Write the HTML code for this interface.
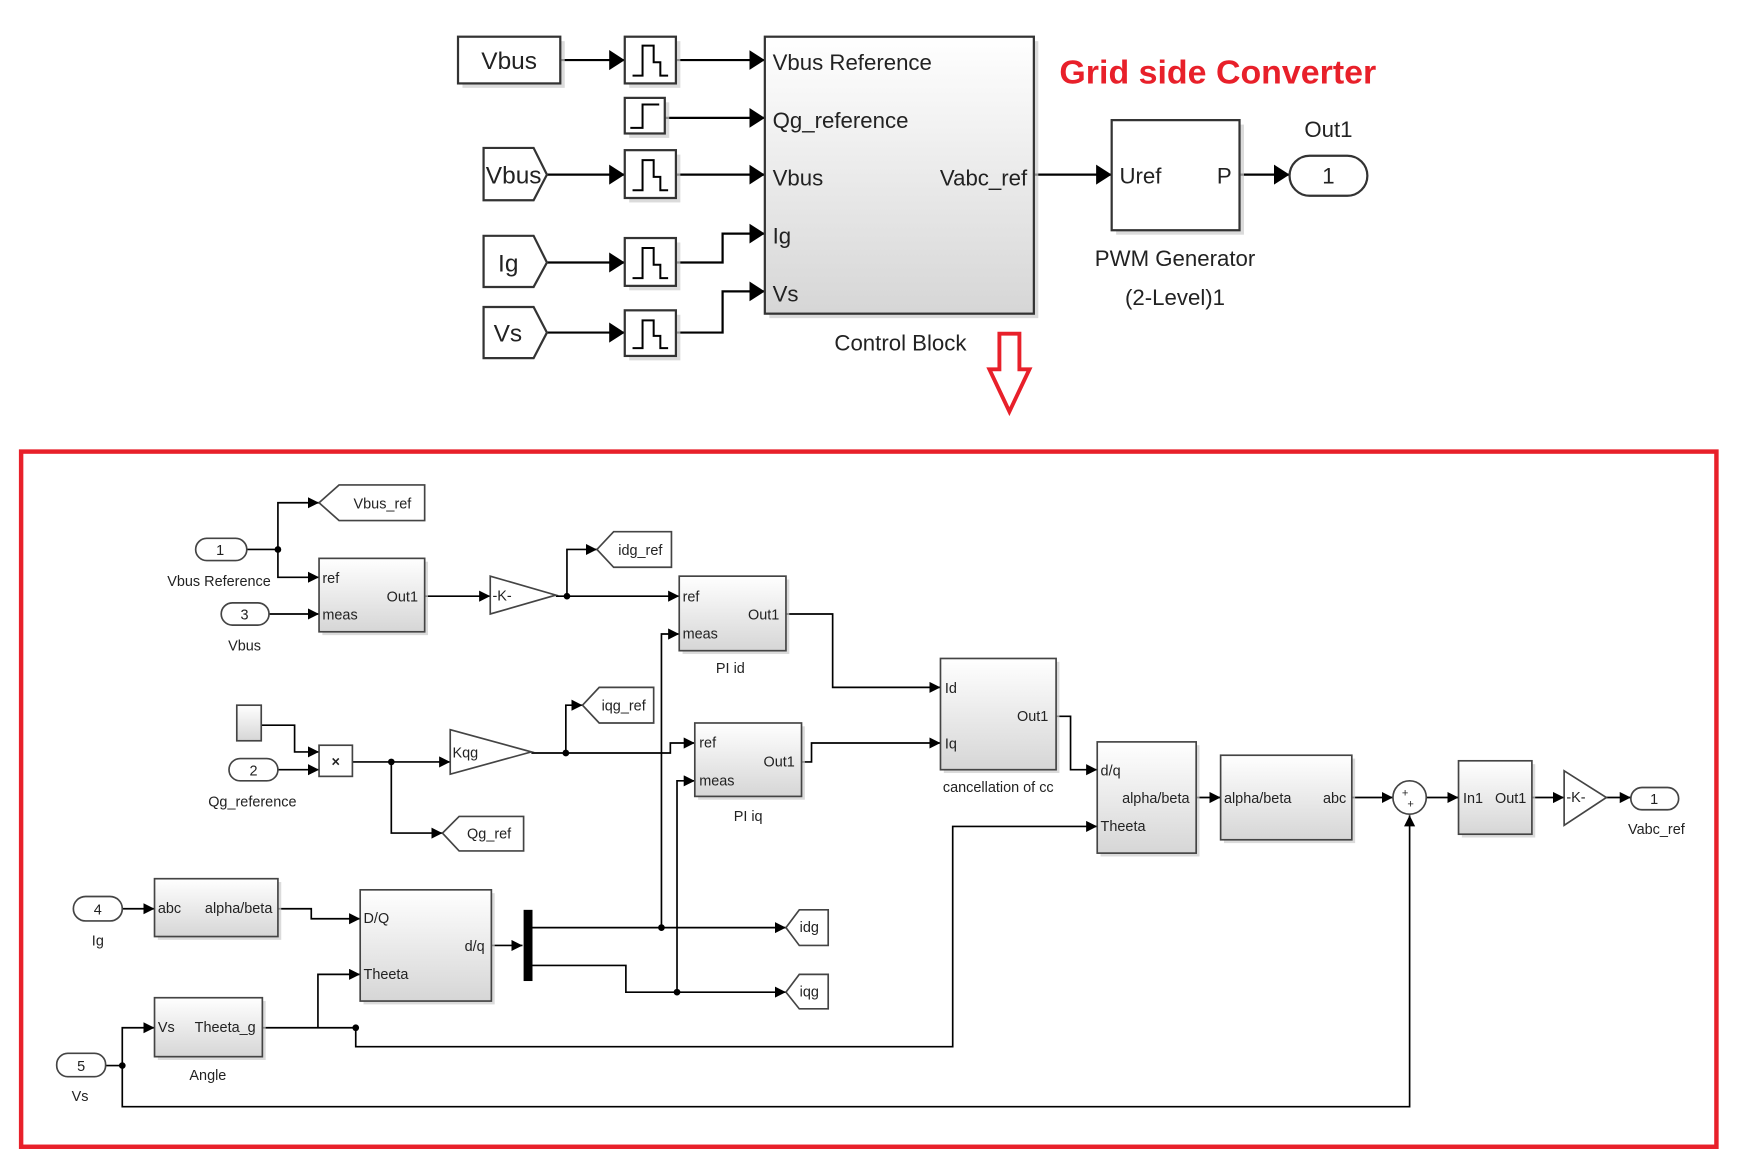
<!DOCTYPE html>
<html><head><meta charset="utf-8"><style>
html,body{margin:0;padding:0;background:#fff;}
svg{display:block;}
text{font-family:"Liberation Sans",sans-serif;fill:#222;}
</style></head><body>
<svg width="1742" height="1159" viewBox="0 0 1567 1042" preserveAspectRatio="none" xmlns="http://www.w3.org/2000/svg">
<defs>
<marker id="A" markerUnits="userSpaceOnUse" markerWidth="16" markerHeight="20" refX="14" refY="9" orient="auto"><path d="M0,0 L14,9 L0,18 z" fill="#000"/></marker>
<marker id="a" markerUnits="userSpaceOnUse" markerWidth="12" markerHeight="12" refX="10" refY="5" orient="auto"><path d="M0,0 L10,5 L0,10 z" fill="#000"/></marker>
<linearGradient id="g" x1="0" y1="0" x2="0" y2="1"><stop offset="0" stop-color="#fff"/><stop offset="1" stop-color="#d6d6d6"/></linearGradient>
</defs>

<g stroke="#000" fill="none" stroke-width="2">
<path d="M504,54 H562" marker-end="url(#A)"/>
<path d="M608,54 H688" marker-end="url(#A)"/>
<path d="M598,106 H688" marker-end="url(#A)"/>
<path d="M492,157 H562" marker-end="url(#A)"/>
<path d="M608,157 H688" marker-end="url(#A)"/>
<path d="M492,236 H562" marker-end="url(#A)"/>
<path d="M608,236 H650 V210 H688" marker-end="url(#A)"/>
<path d="M492,299 H562" marker-end="url(#A)"/>
<path d="M608,299 H650 V262 H688" marker-end="url(#A)"/>
<path d="M930,157 H1000" marker-end="url(#A)"/>
<path d="M1115,157 H1160" marker-end="url(#A)"/>
</g>
<g fill="#ccc" stroke="none" opacity="0.7">
<rect x="416" y="37" width="92" height="42"/>
<rect x="566" y="37" width="46" height="42"/>
<rect x="566" y="92" width="36" height="32"/>
<rect x="566" y="139" width="46" height="43"/>
<rect x="566" y="218" width="46" height="43"/>
<rect x="566" y="283" width="46" height="41"/>
<rect x="692" y="37" width="242" height="249"/>
<rect x="1004" y="112" width="115" height="99"/>
</g>
<g stroke="#333" stroke-width="2" fill="#fff">
<rect x="412" y="33" width="92" height="42"/>
<rect x="562" y="33" width="46" height="42"/>
<rect x="562" y="88" width="36" height="32"/>
<rect x="562" y="135" width="46" height="43"/>
<rect x="562" y="214" width="46" height="43"/>
<rect x="562" y="279" width="46" height="41"/>
<path d="M435,133 H480 L492,157 L480,180 H435 Z"/>
<path d="M435,212 H480 L492,236 L480,258 H435 Z"/>
<path d="M435,276 H480 L492,299 L480,322 H435 Z"/>
<rect x="688" y="33" width="242" height="249" fill="url(#g)"/>
<rect x="1000" y="108" width="115" height="99"/>
<rect x="1160" y="140" width="70" height="36" rx="18"/>
</g>
<g stroke="#000" stroke-width="1.8" fill="none">
<path d="M569,68 H578 V41 H588 V56 H594 V68 H601"/>
<path d="M569,171 H578 V144 H588 V159 H594 V171 H601"/>
<path d="M569,250 H578 V223 H588 V238 H594 V250 H601"/>
<path d="M569,313 H578 V288 H588 V302 H594 V313 H601"/>
<path d="M567,115 H578 V94 H593"/>
</g>
<g font-size="22">
<text x="458" y="62" text-anchor="middle">Vbus</text>
<text x="437" y="165">Vbus</text>
<text x="448" y="244">Ig</text>
<text x="444" y="307">Vs</text>
</g>
<g font-size="20">
<text x="695" y="63">Vbus Reference</text>
<text x="695" y="115">Qg_reference</text>
<text x="695" y="167">Vbus</text>
<text x="695" y="219">Ig</text>
<text x="695" y="271">Vs</text>
<text x="924" y="167" text-anchor="end">Vabc_ref</text>
<text x="810" y="315" text-anchor="middle">Control Block</text>
<text x="1007" y="165">Uref</text>
<text x="1108" y="165" text-anchor="end">P</text>
<text x="1057" y="239" text-anchor="middle">PWM Generator</text>
<text x="1057" y="274" text-anchor="middle">(2-Level)1</text>
<text x="1195" y="165" text-anchor="middle">1</text>
<text x="1195" y="123" text-anchor="middle">Out1</text>
</g>
<text x="953" y="75" font-size="30" font-weight="bold" style="fill:#e8202a" textLength="285" lengthAdjust="spacingAndGlyphs">Grid side Converter</text>
<path d="M899,300 H917 V332 H926 L908,370 L890,332 H899 Z" fill="#fff" stroke="#e8202a" stroke-width="3.5"/>

<rect x="19" y="406" width="1525" height="625" fill="none" stroke="#e8202a" stroke-width="4"/>

<g stroke="#000" fill="none" stroke-width="1.5">
<path d="M222,494 H250 V452 H287" marker-end="url(#a)"/>
<path d="M250,494 V519 H287" marker-end="url(#a)"/>
<path d="M242,552 H287" marker-end="url(#a)"/>
<path d="M382,536 H441" marker-end="url(#a)"/>
<path d="M500,536 H510 V494 H537" marker-end="url(#a)"/>
<path d="M510,536 H611" marker-end="url(#a)"/>
<path d="M707,552 H749 V618 H846" marker-end="url(#a)"/>
<path d="M235,652 H265 V676 H287" marker-end="url(#a)"/>
<path d="M250,692 H287" marker-end="url(#a)"/>
<path d="M317,685 H405" marker-end="url(#a)"/>
<path d="M352,685 V749 H398" marker-end="url(#a)"/>
<path d="M478,677 H509 V634 H524" marker-end="url(#a)"/>
<path d="M509,677 H603 V668 H625" marker-end="url(#a)"/>
<path d="M721,685 H730 V668 H846" marker-end="url(#a)"/>
<path d="M950,644 H963 V692 H987" marker-end="url(#a)"/>
<path d="M1076,717 H1098" marker-end="url(#a)"/>
<path d="M1216,717 H1253" marker-end="url(#a)"/>
<path d="M1283,717 H1312" marker-end="url(#a)"/>
<path d="M1378,717 H1407" marker-end="url(#a)"/>
<path d="M1445,717 H1467" marker-end="url(#a)"/>
<path d="M110,817 H139" marker-end="url(#a)"/>
<path d="M250,817 H280 V826 H324" marker-end="url(#a)"/>
<path d="M442,850 H470" marker-end="url(#a)"/>
<path d="M479,834 H707" marker-end="url(#a)"/>
<path d="M595,834 V570 H611" marker-end="url(#a)"/>
<path d="M479,868 H563 V892 H707" marker-end="url(#a)"/>
<path d="M609,892 V702 H625" marker-end="url(#a)"/>
<path d="M95,958 H110 V924 H139" marker-end="url(#a)"/>
<path d="M236,924 H320 V941 H857 V743 H987" marker-end="url(#a)"/>
<path d="M286,924 V876 H324" marker-end="url(#a)"/>
<path d="M110,958 V995 H1268 V733" marker-end="url(#a)"/>
</g>
<g fill="#000">
<circle cx="250" cy="494" r="3"/><circle cx="510" cy="536" r="3"/>
<circle cx="352" cy="685" r="3"/><circle cx="509" cy="677" r="3"/>
<circle cx="595" cy="834" r="3"/><circle cx="609" cy="892" r="3"/>
<circle cx="110" cy="958" r="3"/><circle cx="320" cy="924" r="3"/>
<rect x="471" y="818" width="8" height="64"/>
</g>
<g fill="#ccc" opacity="0.7">
<rect x="290" y="505" width="95" height="66"/>
<rect x="614" y="521" width="96" height="67"/>
<rect x="628" y="653" width="96" height="66"/>
<rect x="849" y="595" width="104" height="100"/>
<rect x="990" y="670" width="89" height="100"/>
<rect x="1101" y="682" width="118" height="76"/>
<rect x="1315" y="687" width="66" height="66"/>
<rect x="142" y="793" width="111" height="52"/>
<rect x="327" y="803" width="118" height="100"/>
<rect x="142" y="900" width="97" height="53"/>
</g>
<g stroke="#444" stroke-width="1.5" fill="url(#g)">
<rect x="287" y="502" width="95" height="66"/>
<rect x="611" y="518" width="96" height="67"/>
<rect x="625" y="650" width="96" height="66"/>
<rect x="846" y="592" width="104" height="100"/>
<rect x="987" y="667" width="89" height="100"/>
<rect x="1098" y="679" width="118" height="76"/>
<rect x="1312" y="684" width="66" height="66"/>
<rect x="139" y="790" width="111" height="52"/>
<rect x="324" y="800" width="118" height="100"/>
<rect x="139" y="897" width="97" height="53"/>
<rect x="213" y="634" width="22" height="32"/>
</g>
<g stroke="#444" stroke-width="1.5" fill="#fff">
<rect x="287" y="670" width="30" height="28"/>
<path d="M441,518 L500,535 L441,552 Z"/>
<path d="M405,656 L478,676 L405,696 Z"/>
<path d="M1407,693 L1445,717 L1407,742 Z"/>
<circle cx="1268" cy="717" r="15"/>
<rect x="176" y="484" width="46" height="20" rx="10"/>
<rect x="199" y="542" width="43" height="20" rx="10"/>
<rect x="206" y="682" width="44" height="20" rx="10"/>
<rect x="66" y="806" width="44" height="22" rx="11"/>
<rect x="51" y="947" width="44" height="21" rx="10"/>
<rect x="1467" y="708" width="43" height="20" rx="10"/>
<path d="M287,452 L305,436 H382 V468 H305 Z"/>
<path d="M537,494 L552,478 H604 V510 H552 Z"/>
<path d="M524,634 L539,618 H588 V650 H539 Z"/>
<path d="M398,749 L413,734 H471 V765 H413 Z"/>
<path d="M707,834 L719,818 H745 V850 H719 Z"/>
<path d="M707,892 L719,876 H745 V907 H719 Z"/>
</g>
<g font-size="13">
<text x="198" y="499" text-anchor="middle">1</text>
<text x="197" y="527" text-anchor="middle">Vbus Reference</text>
<text x="220" y="557" text-anchor="middle">3</text>
<text x="220" y="585" text-anchor="middle">Vbus</text>
<text x="228" y="697" text-anchor="middle">2</text>
<text x="227" y="725" text-anchor="middle">Qg_reference</text>
<text x="88" y="822" text-anchor="middle">4</text>
<text x="88" y="850" text-anchor="middle">Ig</text>
<text x="73" y="963" text-anchor="middle">5</text>
<text x="72" y="990" text-anchor="middle">Vs</text>
<text x="1488" y="723" text-anchor="middle">1</text>
<text x="1490" y="750" text-anchor="middle">Vabc_ref</text>
<text x="344" y="457" text-anchor="middle">Vbus_ref</text>
<text x="576" y="499" text-anchor="middle">idg_ref</text>
<text x="561" y="639" text-anchor="middle">iqg_ref</text>
<text x="440" y="754" text-anchor="middle">Qg_ref</text>
<text x="728" y="838" text-anchor="middle">idg</text>
<text x="728" y="896" text-anchor="middle">iqg</text>
<text x="290" y="524">ref</text><text x="290" y="557">meas</text><text x="376" y="541" text-anchor="end">Out1</text>
<text x="443" y="540">-K-</text>
<text x="614" y="541">ref</text><text x="614" y="574">meas</text><text x="701" y="557" text-anchor="end">Out1</text>
<text x="657" y="605" text-anchor="middle">PI id</text>
<text x="302" y="689" text-anchor="middle" font-weight="bold">×</text>
<text x="407" y="681">Kqg</text>
<text x="629" y="672">ref</text><text x="629" y="706">meas</text><text x="715" y="689" text-anchor="end">Out1</text>
<text x="673" y="738" text-anchor="middle">PI iq</text>
<text x="850" y="623">Id</text><text x="850" y="673">Iq</text><text x="943" y="648" text-anchor="end">Out1</text>
<text x="898" y="712" text-anchor="middle">cancellation of cc</text>
<text x="990" y="697">d/q</text><text x="1070" y="722" text-anchor="end">alpha/beta</text><text x="990" y="747">Theeta</text>
<text x="1101" y="722">alpha/beta</text><text x="1211" y="722" text-anchor="end">abc</text>
<text x="1261" y="716" font-size="10">+</text><text x="1266" y="726" font-size="10">+</text>
<text x="1316" y="722">In1</text><text x="1373" y="722" text-anchor="end">Out1</text>
<text x="1409" y="721">-K-</text>
<text x="142" y="821">abc</text><text x="245" y="821" text-anchor="end">alpha/beta</text>
<text x="327" y="830">D/Q</text><text x="436" y="855" text-anchor="end">d/q</text><text x="327" y="880">Theeta</text>
<text x="142" y="928">Vs</text><text x="230" y="928" text-anchor="end">Theeta_g</text>
<text x="187" y="971" text-anchor="middle">Angle</text>
</g>
</svg>
</body></html>
